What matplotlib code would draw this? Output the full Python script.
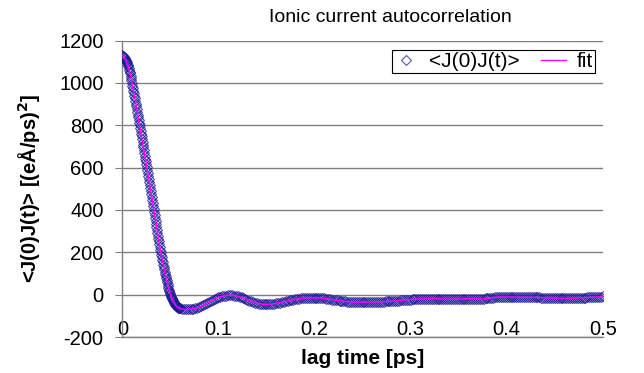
import numpy as np
import matplotlib
matplotlib.use("Agg")
import matplotlib.pyplot as plt

plt.rcParams['font.family'] = ['Liberation Sans', 'DejaVu Sans']
plt.rcParams['axes.unicode_minus'] = False

# fast initial decay, sampled every 0.0005 ps (0 .. 0.0595 ps)
early_step = 0.0005
acf_early = [
    1130, 1129, 1127, 1125, 1122, 1118, 1114, 1110,
    1105, 1099, 1093, 1087, 1080, 1072, 1063, 1054,
    1045, 1034, 1023, 1012, 1000, 988, 976, 964,
    952, 940, 927, 915, 902, 889, 877, 864,
    851, 838, 826, 813, 800, 787, 774, 761,
    748, 735, 722, 709, 696, 683, 670, 656,
    643, 630, 616, 603, 589, 575, 561, 547,
    533, 519, 505, 491, 477, 463, 448, 434,
    420, 406, 391, 377, 363, 349, 334, 320,
    306, 292, 279, 265, 252, 239, 226, 213,
    200, 188, 176, 164, 152, 141, 130, 119,
    108, 98, 88, 78, 68, 59, 50, 41,
    32, 24, 17, 9, 2, -4, -10, -16,
    -22, -27, -31, -36, -40, -44, -47, -50,
    -53, -55, -57, -59, -61, -62, -63, -64,
]
# oscillating tail, sampled every 0.002 ps (0.060 .. 0.500 ps)
late_start = 0.060
late_step = 0.002
acf_late = [
    -65, -68, -69, -70, -69, -68, -67, -66, -64, -62,
    -59, -55, -51, -46, -41, -36, -31, -26, -21, -17,
    -13, -10, -7, -5, -4, -3, -3, -3, -4, -5,
    -7, -10, -13, -16, -20, -24, -28, -31, -34, -37,
    -40, -42, -44, -45, -46, -46, -46, -45, -44, -43,
    -41, -39, -37, -35, -33, -31, -29, -27, -25, -23,
    -21, -20, -19, -18, -17, -16, -16, -15, -15, -15,
    -15, -15, -16, -16, -17, -18, -19, -20, -21, -23,
    -24, -26, -27, -28, -30, -31, -32, -33, -33, -34,
    -34, -35, -35, -35, -35, -35, -35, -35, -35, -35,
    -34, -34, -34, -34, -33, -33, -33, -32, -32, -31,
    -31, -30, -30, -29, -28, -27, -26, -25, -24, -24,
    -23, -22, -22, -21, -21, -20, -20, -20, -19, -19,
    -19, -19, -19, -19, -19, -20, -20, -20, -21, -21,
    -21, -21, -21, -21, -20, -20, -20, -20, -19, -19,
    -19, -19, -19, -19, -19, -20, -20, -20, -19, -18,
    -17, -16, -15, -14, -13, -12, -12, -11, -11, -11,
    -11, -11, -11, -11, -12, -12, -12, -12, -12, -12,
    -12, -12, -12, -12, -12, -13, -13, -13, -14, -14,
    -15, -15, -16, -16, -17, -17, -17, -18, -18, -18,
    -18, -18, -18, -18, -17, -17, -16, -16, -15, -15,
    -14, -14, -13, -13, -12, -12, -11, -11, -10, -9,
    -8,
]

lag = np.concatenate([np.arange(len(acf_early)) * early_step,
                      late_start + np.arange(len(acf_late)) * late_step])
acf = np.array(acf_early + acf_late, dtype=float)
fit = acf

yticks = [-200, 0, 200, 400, 600, 800, 1000, 1200]
xticks = [0, 0.1, 0.2, 0.3, 0.4, 0.5]
xticklabels = ['0', '0.1', '0.2', '0.3', '0.4', '0.5']

fig = plt.figure(figsize=(6.44, 3.73), dpi=100)
ax = fig.add_axes([0.190, 0.0965, 0.746, 0.7945])

ax.plot(lag, acf, linestyle='none', marker='D', markersize=4.6,
        markerfacecolor='none', markeredgecolor=(0.10, 0.10, 0.58, 0.75),
        markeredgewidth=0.8, label='<J(0)J(t)>', zorder=3)
ax.plot(lag, fit, color='#ff00ff', linewidth=1.0, label='fit', zorder=4)

ax.set_xlim(0, 0.5)
ax.set_ylim(-200, 1200)
ax.set_yticks(yticks)
ax.set_xticks(xticks)
ax.set_xticklabels(xticklabels)
ax.yaxis.grid(True, color='#808080', linewidth=1.0)
ax.set_axisbelow(True)

for s in ['top', 'right']:
    ax.spines[s].set_visible(False)
for s in ['left', 'bottom']:
    ax.spines[s].set_color('#808080')
    ax.spines[s].set_linewidth(1.0)

ax.tick_params(axis='y', length=5, color='#808080', labelsize=14.5, pad=8.5)
ax.tick_params(axis='x', length=0, labelsize=14.5, pad=-12)

ax.set_xlabel('lag time [ps]', fontsize=15, fontweight='bold', labelpad=7)
ax.set_ylabel('<J(0)J(t)> [(eÅ/ps)$^\\mathbf{2}$]', fontsize=14.5,
              fontweight='bold', labelpad=12)
fig.text(390/644, 1 - 17/373, 'Ionic current autocorrelation', fontsize=14,
         ha='center', va='center')

leg = ax.legend(ncol=2, loc='upper right', bbox_to_anchor=(0.983, 0.969),
                borderaxespad=0, fontsize=15, frameon=True, fancybox=False,
                framealpha=1, edgecolor='black', handlelength=1.2,
                columnspacing=1.0, borderpad=0.1, handletextpad=0.5,
                markerscale=1.0)
leg.get_frame().set_linewidth(0.8)

fig.savefig('out.png', dpi=100)
